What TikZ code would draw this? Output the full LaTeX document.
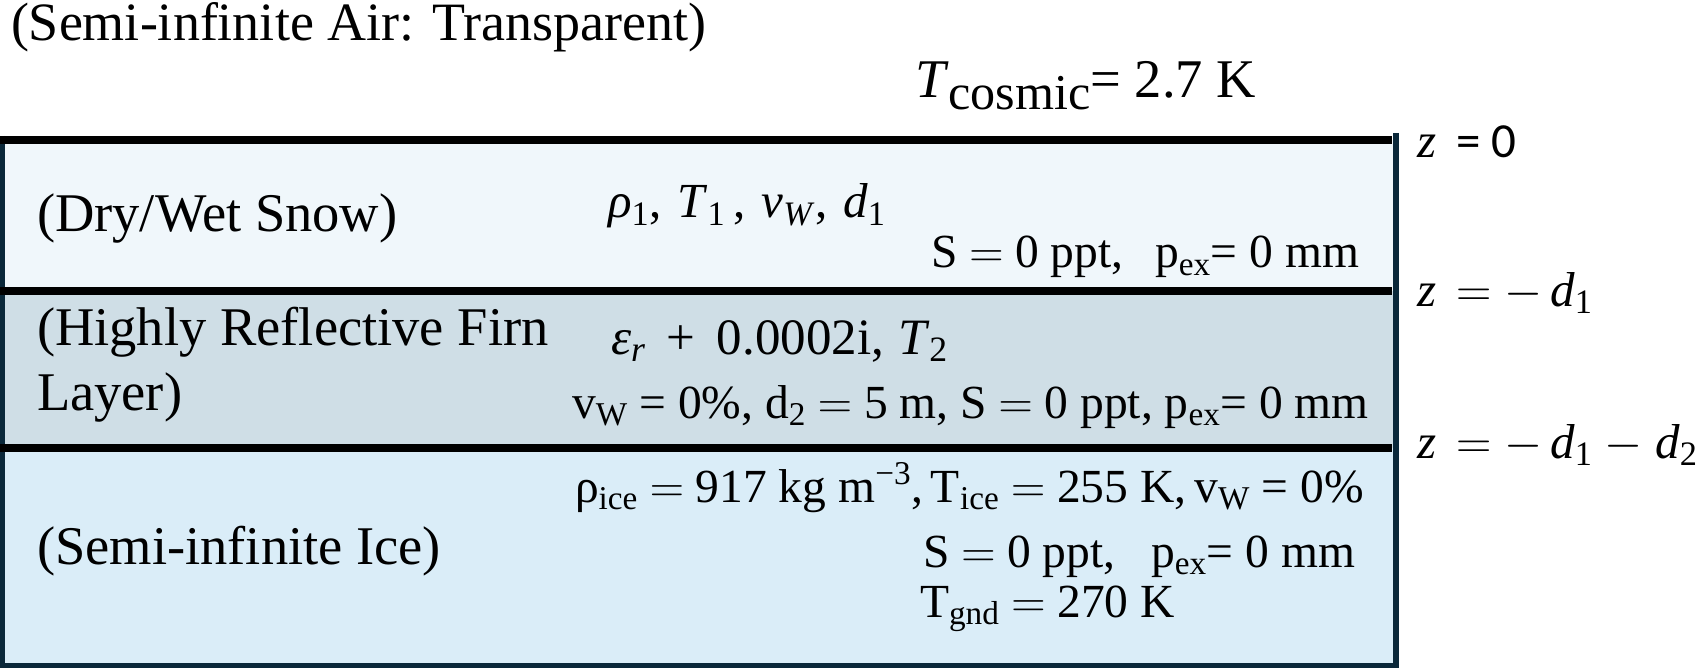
\documentclass[tikz,border=0pt]{standalone}
\usepackage{fix-cm}
\usepackage{graphicx}
\usepackage{fontspec}
\setmainfont{Liberation Serif}
\newfontfamily\calib{Carlito}
\definecolor{snowc}{RGB}{240,247,251}
\definecolor{firnc}{RGB}{207,222,230}
\definecolor{icec}{RGB}{218,237,248}
\definecolor{navyc}{RGB}{10,40,58}
\newcommand\ttltxt{\fontsize{54}{60}\selectfont}
\newcommand\bigtxt{\fontsize{54.5}{60}\selectfont}
\newcommand\midtxt{\fontsize{47.5}{52}\selectfont}
\newcommand\mthtxt{\fontsize{49}{54}\selectfont}
\newcommand\dn[1]{\textsubscript{#1}}
\begin{document}
\begin{tikzpicture}[x=1pt,y=-1pt,
  lbl/.style={anchor=base west,inner sep=0pt,outer sep=0pt,font=\bigtxt},
  par/.style={anchor=base west,inner sep=0pt,outer sep=0pt,font=\midtxt},
  mth/.style={anchor=base west,inner sep=0pt,outer sep=0pt,font=\mthtxt},
  sepline/.style={black,line width=8pt},
  border/.style={navyc,line width=5pt}]
\useasboundingbox (0,0) rectangle (1702,668);
% layers
\fill[snowc] (0,140) rectangle (1396,291);
\fill[firnc] (0,291) rectangle (1396,448);
\fill[icec] (0,448) rectangle (1396,668);
\draw[border] (2.5,136) -- (2.5,665.5) -- (1396,665.5);
\draw[navyc,line width=6pt] (1396,133) -- (1396,668);
\coordinate (l0) at (0,140);  \coordinate (r0) at (1392,140);
\coordinate (l1) at (0,291);  \coordinate (r1) at (1392,291);
\coordinate (l2) at (0,448);  \coordinate (r2) at (1392,448);
\draw[sepline] (l0) -- (r0);
\draw[sepline] (l1) -- (r1);
\draw[sepline] (l2) -- (r2);
% titles
\node[lbl,font=\ttltxt] (air) at (11,41) {(Semi-infinite Air: Transparent)};
\node[lbl] (cos) at (915,98) {\textit{T}\raisebox{-12pt}{\scalebox{0.92}{cosmic}}= 2.7 K};
\node[lbl] (snow) at (37,232) {(Dry/Wet Snow)};
\node[lbl] (firn1) at (37,345) {(Highly Reflective Firn};
\node[lbl] (firn2) at (37,410) {Layer)};
\node[lbl] (ice) at (37,564) {(Semi-infinite Ice)};
% parameters
\node[mth] (sp1) at (608,218) {\textit{ρ}\dn{1},\hspace{16pt}\textit{T}\dn{1}\,,\hspace{16pt}\textit{v}\dn{\textit{W}},\hspace{16pt}\textit{d}\dn{1}};
\node[par] (sp2) at (931,268) {S $=$ 0 ppt,\ \ \,p\dn{ex}= 0 mm};
\node[mth,font=\fontsize{51}{56}\selectfont] (fp1) at (611,354) {\textit{ε}\dn{\textit{r}} \,+\, 0.0002i,\hspace{14pt}\textit{T}\dn{2}};
\node[par] (fp2) at (572,418) {v\dn{W} = 0\%, d\dn{2} $=$ 5 m, S $=$ 0 ppt, p\dn{ex}= 0 mm};
\node[par] (ip1) at (575,502) {ρ\dn{ice} $=$ 917 kg m\textsuperscript{−3},\,T\dn{ice} $=$ 255 K,\,v\dn{W} = 0\%};
\node[par] (ip2) at (923,567) {S $=$ 0 ppt,\ \ \ p\dn{ex}= 0 mm};
\node[par] (ip3) at (920,617) {T\dn{gnd} $=$ 270 K};
% depth labels
\node[mth] (z0) at (1417,158) {\textit{z}\, {\calib= 0}};
\node[mth] (z1) at (1417,306) {\textit{z}\, $=$ $-$\,\textit{d}\dn{1}};
\node[mth] (z2) at (1417,458) {\textit{z}\, $=$ $-$\,\textit{d}\dn{1} $-$ \textit{d}\dn{2}};
\end{tikzpicture}
\end{document}
